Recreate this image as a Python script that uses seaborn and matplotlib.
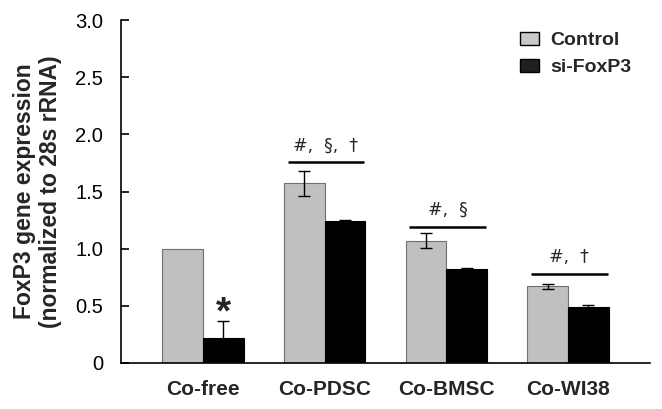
import numpy as np
import pandas as pd
import matplotlib
matplotlib.use("Agg")
import matplotlib.pyplot as plt
import seaborn as sns
from matplotlib.patches import Patch

# ---- data ----
groups = ["Co-free", "Co-PDSC", "Co-BMSC", "Co-WI38"]
conditions = ["Control", "si-FoxP3"]
control_vals = [1.00, 1.57, 1.07, 0.67]
control_err = [0.0, 0.11, 0.065, 0.02]
sifoxp3_vals = [0.22, 1.24, 0.825, 0.49]
sifoxp3_err = [0.15, 0.01, 0.01, 0.018]
sig_labels = ["", "#,  §,  †", "#,  §", "#,  †"]
sig_heights = [None, 1.755, 1.19, 0.775]
star_label = "*"
yticks = [0, 0.5, 1.0, 1.5, 2.0, 2.5, 3.0]
ytick_labels = ["0", "0.5", "1.0", "1.5", "2.0", "2.5", "3.0"]

df = pd.DataFrame({
    "group": groups * 2,
    "condition": [conditions[0]] * 4 + [conditions[1]] * 4,
    "value": control_vals + sifoxp3_vals,
})

sns.set_theme(style="white")
plt.rcParams["font.family"] = ["Liberation Sans", "DejaVu Sans"]

fig = plt.figure(figsize=(6.62, 4.09), dpi=100)
ax = fig.add_axes([121 / 662, 1 - 363 / 409, (650 - 121) / 662, (363 - 20) / 409])

colors = {"Control": "#c0c0c0", "si-FoxP3": "#000000"}
sns.barplot(data=df, x="group", y="value", hue="condition", order=groups,
            hue_order=conditions, palette=colors, width=0.67, errorbar=None,
            ax=ax, legend=False, saturation=1)

edgecols = ["#707070", "#000000"]
for cont, ec in zip(ax.containers, edgecols):
    for p in cont:
        p.set_edgecolor(ec)
        p.set_linewidth(0.8)

errs = [control_err, sifoxp3_err]
for cont, err in zip(ax.containers, errs):
    xs = [p.get_x() + p.get_width() / 2 for p in cont]
    ys = [p.get_height() for p in cont]
    e = np.array(err)
    mask = e > 0
    ax.errorbar(np.array(xs)[mask], np.array(ys)[mask], yerr=e[mask], fmt="none",
                ecolor="black", elinewidth=1.0, capsize=4, capthick=1.0, zorder=5)

# significance lines
c_bars = list(ax.containers[0])
s_bars = list(ax.containers[1])
for i, (lab, h) in enumerate(zip(sig_labels, sig_heights)):
    if h is None:
        continue
    x0 = c_bars[i].get_x() + 0.03
    x1 = s_bars[i].get_x() + s_bars[i].get_width() - 0.01
    ax.plot([x0, x1], [h, h], color="black", lw=1.8, solid_capstyle="butt")
    ax.text((x0 + x1) / 2, h + 0.07, lab, ha="center", va="bottom",
            fontsize=12.5, family=["DejaVu Sans"])

# asterisk over Co-free si-FoxP3
sb = s_bars[0]
ax.text(sb.get_x() + sb.get_width() / 2, sb.get_height() + sifoxp3_err[0] - 0.09,
        star_label, ha="center", va="bottom", fontsize=28, fontweight="bold")

ax.set_ylim(0, 3.0)
ax.set_xlim(-0.674, 3.673)
ax.set_yticks(yticks)
ax.set_yticklabels(ytick_labels)
ax.tick_params(axis="y", direction="in", length=6, width=1.2, pad=13,
               labelsize=14.5, colors="black", left=True)
ax.tick_params(axis="x", length=0, pad=12, labelsize=15)
for t in ax.get_xticklabels():
    t.set_fontweight("bold")
ax.set_xlabel("")
ax.set_ylabel("FoxP3 gene expression\n(normalized to 28s rRNA)", fontsize=16.5,
              fontweight="bold", linespacing=1.15)
ax.yaxis.set_label_coords(-0.112, 0.5)

for s in ["top", "right"]:
    ax.spines[s].set_visible(False)
for s in ["left", "bottom"]:
    ax.spines[s].set_color("black")
    ax.spines[s].set_linewidth(1.2)

handles = [Patch(facecolor="#c8c8c8", edgecolor="black", linewidth=1.0, label="Control"),
           Patch(facecolor="#202020", edgecolor="black", linewidth=1.0, label="si-FoxP3")]
ax.legend(handles=handles, loc="upper left", bbox_to_anchor=(0.754, 0.966),
          frameon=False, borderaxespad=0, borderpad=0, handlelength=1.0,
          handleheight=0.65, handletextpad=0.55, labelspacing=0.5,
          prop={"weight": "bold", "size": 14})

fig.savefig("out.png", dpi=100)
